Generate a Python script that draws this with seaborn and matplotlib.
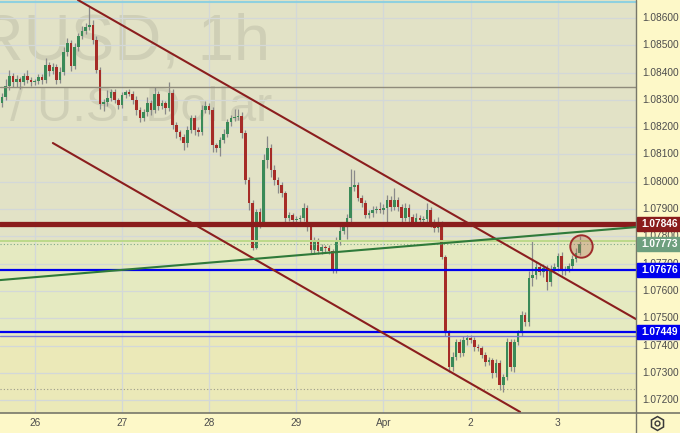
import matplotlib
matplotlib.use("Agg")
import matplotlib.pyplot as plt
import matplotlib.transforms as mtrans
from matplotlib.patches import Rectangle
from matplotlib.lines import Line2D
import numpy as np
import pandas as pd
import seaborn as sns

# ---------------- data (prices in 1e-5 units) ----------------
first_open_pts = 108289
closes_pts = [
    108311, 108351, 108388, 108366, 108377, 108366, 108388, 108373, 108366, 108369,
    108384, 108373, 108428, 108406, 108421, 108373, 108402, 108475, 108508, 108424,
    108494, 108534, 108552, 108567, 108574, 108519, 108410, 108285, 108292, 108307,
    108329, 108300, 108281, 108318, 108329, 108322, 108300, 108263, 108234, 108256,
    108289, 108263, 108322, 108278, 108289, 108270, 108325, 108208, 108182, 108164,
    108142, 108190, 108234, 108190, 108182, 108263, 108278, 108263, 108135, 108124,
    108153, 108175, 108219, 108234, 108237, 108241, 108179, 108007, 107922, 107758,
    107889, 107849, 108080, 108124, 108043, 108007, 107988, 107959, 107867, 107878,
    107860, 107864, 107867, 107904, 107834, 107750, 107783, 107747, 107761, 107758,
    107747, 107677, 107783, 107820, 107834, 107867, 107981, 107988, 107941, 107922,
    107878, 107886, 107897, 107900, 107897, 107904, 107933, 107908, 107933, 107908,
    107867, 107904, 107871, 107853, 107867, 107860, 107864, 107897, 107853, 107831,
    107845, 107725, 107446, 107322, 107358, 107413, 107373, 107421, 107428, 107421,
    107395, 107391, 107366, 107340, 107347, 107300, 107336, 107256, 107285, 107413,
    107322, 107413, 107446, 107512, 107486, 107648, 107659, 107688, 107670, 107684,
    107633, 107677, 107688, 107728, 107677, 107680, 107692, 107717, 107739, 107773,
]
up_wick_pts = [
    15, 25, 20, 10, 15, 8, 12, 20, 10, 8,
    12, 10, 25, 12, 15, 10, 20, 18, 20, 10,
    15, 10, 20, 15, 66, 20, 15, 10, 12, 30,
    10, 12, 8, 10, 8, 10, 12, 15, 10, 12,
    20, 10, 25, 10, 12, 8, 40, 15, 10, 8,
    10, 15, 10, 12, 10, 20, 18, 12, 10, 8,
    10, 20, 10, 12, 30, 25, 15, 10, 12, 10,
    10, 15, 20, 45, 15, 20, 12, 10, 8, 10,
    8, 12, 10, 20, 10, 8, 15, 10, 12, 8,
    10, 8, 15, 30, 12, 15, 65, 55, 12, 10,
    10, 12, 15, 10, 25, 15, 20, 15, 45, 10,
    12, 20, 15, 10, 20, 10, 12, 25, 12, 10,
    25, 10, 8, 10, 20, 10, 12, 15, 10, 12,
    10, 10, 8, 12, 10, 8, 15, 10, 12, 15,
    10, 12, 10, 15, 12, 25, 128, 20, 12, 15,
    10, 20, 15, 12, 15, 10, 12, 15, 18, 28,
]
down_wick_pts = [
    15, 10, 15, 20, 20, 25, 12, 10, 15, 10,
    12, 15, 10, 20, 12, 15, 10, 12, 15, 20,
    10, 15, 12, 10, 12, 15, 10, 20, 25, 15,
    12, 10, 15, 10, 12, 8, 15, 20, 15, 10,
    15, 20, 10, 15, 12, 20, 10, 15, 20, 10,
    25, 15, 10, 20, 15, 10, 12, 15, 25, 15,
    30, 12, 10, 15, 12, 10, 20, 15, 25, 8,
    5, 20, 10, 30, 25, 20, 30, 15, 20, 10,
    15, 10, 15, 12, 15, 10, 15, 10, 12, 15,
    10, 10, 12, 15, 12, 45, 20, 15, 10, 15,
    12, 10, 15, 10, 12, 15, 58, 15, 12, 15,
    15, 10, 20, 15, 12, 15, 10, 12, 20, 15,
    15, 8, 10, 20, 15, 12, 15, 10, 20, 12,
    15, 10, 12, 15, 10, 20, 15, 18, 25, 12,
    15, 20, 12, 10, 15, 15, 30, 15, 12, 20,
    30, 15, 12, 15, 20, 18, 12, 10, 12, 8,
]

day_tick_index = [9, 33, 57, 81, 105, 129, 153]
day_labels = ["26", "27", "28", "29", "Apr", "2", "3"]
price_ticks = [1.072, 1.073, 1.074, 1.075, 1.076, 1.077, 1.078, 1.079,
               1.080, 1.081, 1.082, 1.083, 1.084, 1.085, 1.086]
price_tick_labels = ["1.07200", "1.07300", "1.07400", "1.07500", "1.07600",
                     "1.07700", "1.07800", "1.07900", "1.08000", "1.08100",
                     "1.08200", "1.08300", "1.08400", "1.08500", "1.08600"]

resistance = 1.07846
support_1 = 1.07676
support_2 = 1.07449
support_2b = 1.07435
last_price = 1.07773
zone_split_hi = 1.07783
grey_level = 1.08347
dotted_low = 1.07241
top_level = 1.08659

channel_upper_x = [20.9, 174.5]
channel_upper_y = [1.08666, 1.07497]
channel_lower_x = [14.0, 142.6]
channel_lower_y = [1.08142, 1.07157]
green_line_x = [-0.55, 174.5]
green_line_y = [1.07640, 1.07834]
circle_x, circle_y = 159.4, 1.07766

# ---------------- build frame ----------------
closes = np.array(closes_pts) / 1e5
opens = np.array([first_open_pts] + closes_pts[:-1]) / 1e5
highs = np.maximum(opens, closes) + np.array(up_wick_pts) / 1e5
lows = np.minimum(opens, closes) - np.array(down_wick_pts) / 1e5
df = pd.DataFrame({"i": np.arange(len(closes)), "open": opens, "high": highs,
                   "low": lows, "close": closes})

sns.set_theme(style="white")
plt.rcParams["font.family"] = ["Liberation Sans", "DejaVu Sans"]

W, H = 680, 433
fig = plt.figure(figsize=(W / 100, H / 100), dpi=100)
fig.patch.set_facecolor("#fdf8c8")
ax = fig.add_axes([0, 20 / H, 636 / W, 413 / H])
ax.set_xlim(-0.55, 174.5)
ax.set_ylim(1.071531, 1.086659)
for s in ax.spines.values():
    s.set_visible(False)
ax.set_xticks([])
ax.set_yticks([])

# background zones
ax.axhspan(zone_split_hi, 1.0870, color="#e2e2c6", zorder=0)
ax.axhspan(support_2b, zone_split_hi, color="#e5eac1", zorder=0)
ax.axhspan(1.0710, support_2b, color="#ebe9b8", zorder=0)

# watermark
ax.text(270 / W, 1 - 60 / H, "EURUSD, 1h", transform=fig.transFigure, ha="right",
        va="baseline", fontsize=47, color="#cfcfb6", zorder=0.5, clip_on=True)
ax.text(272 / W, 1 - 121 / H, "Euro / U.S. Dollar", transform=fig.transFigure,
        ha="right", va="baseline", fontsize=35, color="#cfcfb6", zorder=0.5,
        clip_on=True)

# grid
for p in price_ticks:
    ax.axhline(p, color="#d3d8d8", lw=0.9, zorder=1)
for d in day_tick_index:
    ax.axvline(d, color="#d3d8d8", lw=0.9, zorder=1)

# candles
up = df["close"] >= df["open"]
ax.vlines(df["i"], df["low"], df["high"], color="#8a8a8a", lw=0.9, zorder=3)
body_h = np.maximum((df["close"] - df["open"]).abs(), 0.000025)
body_b = np.minimum(df["open"], df["close"])
ax.bar(df["i"][up], body_h[up], bottom=body_b[up], width=0.72, color="#3a8a58",
       edgecolor="none", zorder=4)
ax.bar(df["i"][~up], body_h[~up], bottom=body_b[~up], width=0.72, color="#a62c27",
       edgecolor="none", zorder=4)

# horizontal levels
ax.axhline(top_level, color="#8fd0df", lw=1.5, zorder=5)
ax.axhline(grey_level, color="#8f8b7b", lw=1.0, zorder=5)
ax.axhline(dotted_low, color="#9a9a8a", lw=0.8, ls=(0, (1, 2)), zorder=5)
ax.axhline(zone_split_hi, color="#bcd98a", lw=1.4, zorder=5)
ax.axhline(last_price, color="#7fa88a", lw=0.8, ls=(0, (1, 2)), zorder=5)
ax.axhline(support_2b, color="#7b7bd8", lw=1.0, zorder=5)
ax.axhline(support_2, color="#0000ee", lw=1.6, zorder=5)
ax.axhline(support_1, color="#0000ee", lw=1.6, zorder=5)
ax.axhline(resistance, color="#8a1c1c", lw=3.8, zorder=5)

# trend lines
lines_df = pd.concat([
    pd.DataFrame({"x": channel_upper_x, "y": channel_upper_y, "name": "up"}),
    pd.DataFrame({"x": channel_lower_x, "y": channel_lower_y, "name": "low"}),
])
sns.lineplot(data=lines_df, x="x", y="y", units="name", estimator=None,
             color="#8b1e1e", lw=1.5, ax=ax, zorder=6)
sns.lineplot(x=green_line_x, y=green_line_y, color="#2f7a3a", lw=1.5, ax=ax, zorder=6)
ax.set_xlabel("")
ax.set_ylabel("")
ax.set_xlim(-0.55, 174.5)
ax.set_ylim(1.071531, 1.086659)

# circle marker
ax.scatter([circle_x], [circle_y], s=260, facecolor=(0.72, 0.45, 0.35, 0.35),
           edgecolor="#9e2b2b", lw=1.4, zorder=7)

# separators
fig.add_artist(Line2D([0, 1], [20 / H, 20 / H], transform=fig.transFigure,
                      color="#77776a", lw=1.2))
fig.add_artist(Line2D([636 / W, 636 / W], [0, 1], transform=fig.transFigure,
                      color="#77776a", lw=1.0))

# right price axis
tr = mtrans.blended_transform_factory(fig.transFigure, ax.transData)
for p, lab in zip(price_ticks, price_tick_labels):
    fig.text(642 / W, p, lab, transform=tr, ha="left", va="center",
             fontsize=7.3, color="#4d4d4d")

box_h = 14 / 27300
for p, lab, col in [(resistance, "1.07846", "#8a1c1c"),
                    (last_price, "1.07773", "#6e9f7e"),
                    (support_1, "1.07676", "#0000ee"),
                    (support_2, "1.07449", "#0000ee")]:
    fig.add_artist(Rectangle((637 / W, p - box_h / 2), 43 / W, box_h,
                             transform=tr, color=col, zorder=10))
    fig.text(641 / W, p, lab, transform=tr, ha="left", va="center",
             fontsize=7.3, color="white", fontweight="bold", zorder=11)

# bottom time axis
trx = mtrans.blended_transform_factory(ax.transData, fig.transFigure)
for d, lab in zip(day_tick_index, day_labels):
    fig.text(d, 1 - 423 / H, lab, transform=trx, ha="center", va="center",
             fontsize=7.3, color="#4d4d4d")

# settings icon
fig.add_artist(Line2D([657 / W], [1 - 423 / H], transform=fig.transFigure,
                      marker="h", markersize=10, mfc="none", mec="#3a3a3a", mew=1.1))
fig.add_artist(Line2D([657 / W], [1 - 423 / H], transform=fig.transFigure,
                      marker="o", markersize=3.5, mfc="none", mec="#3a3a3a", mew=1.0))

fig.savefig("out.png", dpi=100)
